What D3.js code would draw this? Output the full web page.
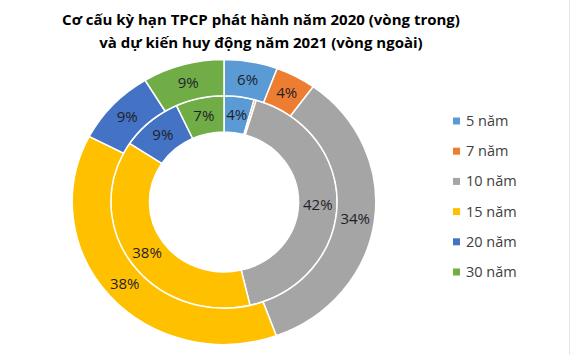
<!DOCTYPE html>
<html><head><meta charset="utf-8">
<script src="https://cdn.jsdelivr.net/npm/d3@7"></script>
<style>
html,body{margin:0;padding:0;background:#fff;}
text{font-family:"Open Sans","Noto Sans",sans-serif;}
</style></head>
<body><svg id="c" width="570" height="355"></svg>
<script>
const categories = ["5 năm","7 năm","10 năm","15 năm","20 năm","30 năm"];
const values2020 = [4.3, 0.3, 41.7, 38.0, 8.8, 6.9];   // inner ring
const values2021 = [5.7, 4.3, 34.4, 38.2, 8.7, 8.7];   // outer ring
const colors = ["#5B9BD5","#ED7D31","#A5A5A5","#FFC000","#4472C4","#70AD47"];
const titleLines = ["Cơ cấu kỳ hạn TPCP phát hành năm 2020 (vòng trong)","và dự kiến huy động năm 2021 (vòng ngoài)"];

const svg = d3.select("#c");
svg.append("rect").attr("width",570).attr("height",355).attr("fill","#fff");
svg.append("line").attr("x1",569.5).attr("x2",569.5).attr("y1",0).attr("y2",355).attr("stroke","#e6e6e6");

const cx = 224, cy = 202, sx = 1.065;
const rHole = 70, rMid = 106.2, rOut = 142.5;

const pie = d3.pie().sort(null).value(d=>d);
const color = d3.scaleOrdinal().domain(categories).range(colors);

function ring(vals, r0, r1){
  const arc = d3.arc().innerRadius(r0).outerRadius(r1);
  const arcs = pie(vals);
  const g = svg.append("g").attr("transform",`translate(${cx},${cy}) scale(${sx},1)`);
  g.selectAll("path").data(arcs).join("path")
    .attr("d",arc)
    .attr("fill",(d,i)=>color(categories[i]))
    .attr("stroke","#fff").attr("stroke-width",1.5)
    .attr("vector-effect","non-scaling-stroke");
  const lg = svg.append("g").attr("transform",`translate(${cx},${cy})`);
  lg.selectAll("text").data(arcs.filter(d=>Math.round(d.value)>=1)).join("text")
    .attr("x",d=>arc.centroid(d)[0]*sx)
    .attr("y",d=>arc.centroid(d)[1])
    .attr("dy","0.35em")
    .attr("text-anchor","middle")
    .attr("font-size",15)
    .attr("fill","#1f1f2a")
    .text(d=>Math.round(d.value)+"%");
}
ring(values2020, rHole, rMid);
ring(values2021, rMid, rOut);

svg.selectAll("text.title").data(titleLines).join("text")
  .attr("class","title")
  .attr("x",261).attr("y",(d,i)=>20+i*23).attr("dy","0.35em")
  .attr("text-anchor","middle").attr("font-weight","bold").attr("font-size",15)
  .attr("fill","#000").text(d=>d);

const leg = svg.append("g").selectAll("g").data(categories).join("g")
  .attr("transform",(d,i)=>`translate(453,${121+i*30.2})`);
leg.append("rect").attr("x",0).attr("y",-3.5).attr("width",7).attr("height",7).attr("fill",d=>color(d));
leg.append("text").attr("x",13).attr("dy","0.35em").attr("font-size",14.5).attr("fill","#404040").text(d=>d);
</script></body></html>
